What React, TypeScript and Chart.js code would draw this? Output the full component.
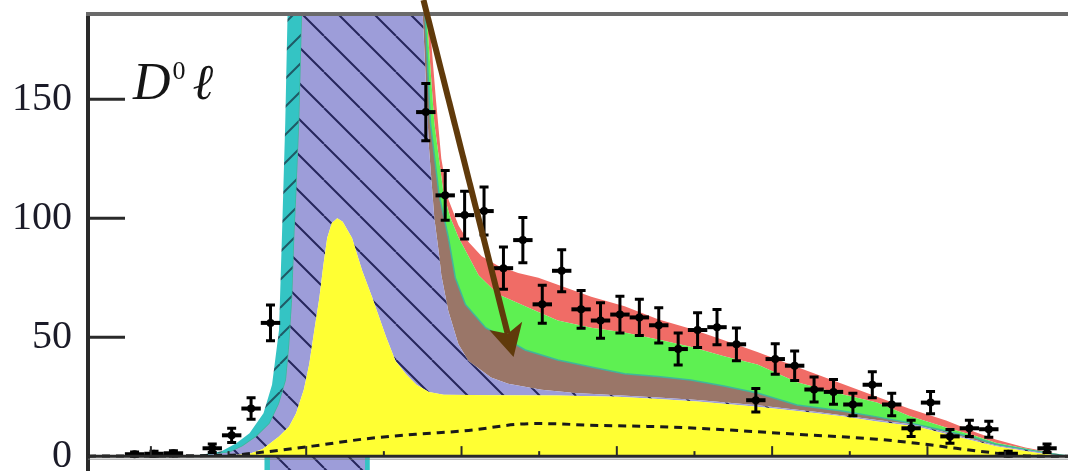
import React, { useEffect, useRef } from "react";
import { Chart, registerables } from "chart.js";

Chart.register(...registerables);

// ---------- axis ranges / ticks ----------
const X_MIN = 0.19;
const X_MAX = 12.81;
const Y_MIN = -5.83;
const Y_MAX = 185.83;
const Y_TICKS = [0, 50, 100, 150];
const X_MINOR_TICKS = [1, 2, 3, 4, 5, 6, 7, 8, 9, 10, 11, 12];
const BIN_HALF = 0.125;

// ---------- data points (bin centre, counts, error) ----------
const pointX = [0.79, 1.04, 1.29, 1.79, 2.04, 2.29, 2.54,
  4.54, 4.79, 5.04, 5.29, 5.54, 5.79, 6.04, 6.29, 6.54, 6.79, 7.04, 7.29, 7.54, 7.79, 8.04, 8.29,
  8.54, 8.79, 9.04, 9.29, 9.54, 9.79, 10.04, 10.29, 10.54, 10.79, 11.04, 11.29, 11.54, 11.79, 12.04, 12.54];
const pointY = [0.8, 1, 1.2, 3.3, 8.75, 20, 56,
  144.6, 109.6, 101.3, 103, 79, 90.8, 63.8, 77.9, 61.7, 57, 59.5, 58.3, 55, 45, 53, 54.2,
  47, 23.5, 40.8, 38, 28, 27, 21.7, 30, 21.7, 11.7, 22.5, 8.3, 11.7, 11.3, 1, 3.3];
const pointErr = [0.9, 1, 1.1, 1.8, 3, 4.5, 7.5,
  12, 10.5, 10, 10.1, 8.9, 9.5, 8, 8.8, 7.9, 7.5, 7.7, 7.6, 7.4, 6.7, 7.3, 7.4,
  6.9, 4.9, 6.4, 6.2, 5.3, 5.2, 4.7, 5.5, 4.7, 3.4, 4.7, 2.9, 3.4, 3.4, 1, 1.8];

// ---------- stacked components (cumulative upper edges) ----------
const yellowX = [0.19, 2.01, 2.27, 2.44, 2.65, 2.78, 2.87, 2.97, 3.04, 3.1, 3.17, 3.22, 3.27, 3.33, 3.4, 3.47,
  3.59, 3.72, 3.85, 4.03, 4.15, 4.28, 4.42, 4.58, 4.77, 5.47, 6.24, 7.01, 7.53, 8.04, 8.81, 9.32, 9.9, 10.35,
  10.86, 11.37, 11.88, 12.4, 12.65, 12.81];
const yellowY = [0, 0.3, 1, 3, 8.3, 12.5, 18, 28, 38.8, 52, 66.7, 80, 91.7, 98, 100, 98.5,
  91.7, 78, 66.7, 50, 40, 34.6, 30, 27, 25.8, 25.6, 25.5, 25, 24, 23, 20.8, 19, 16.8, 14.6,
  12.5, 8.3, 4.2, 1.4, 0.4, 0];

const peakLeftX = [0.19, 1.63, 2.01, 2.18, 2.36, 2.53, 2.65, 2.74, 2.78, 2.82, 2.85, 2.87, 2.91, 2.95, 2.99, 4.32];
const peakLeftY = [0, 0.3, 1.5, 4.2, 8.3, 13.75, 22, 32, 46, 66.7, 94.6, 108, 140, 190, 300, 300];

const purpleRightX = [4.35, 4.5, 4.58, 4.65, 4.71, 4.74, 4.83, 4.96, 5.09, 5.38, 5.6, 6.03, 6.46, 7.01, 7.53,
  8.04, 8.81, 9.58, 10.35, 10.86, 11.37, 11.88, 12.4, 12.65, 12.81];
const purpleRightY = [300, 186, 130, 100, 85, 76, 61, 47, 40, 33, 30.4, 27.9, 26.5, 25.6, 24.6,
  23.6, 21.4, 18.6, 15.2, 13.1, 8.8, 4.6, 1.9, 0.6, 0];

const brownRightX = [4.4, 4.53, 4.6, 4.71, 4.83, 4.92, 5.05, 5.31, 5.6, 5.82, 6.24, 6.67, 7.1, 7.53, 7.95,
  8.38, 8.81, 9.32, 9.9, 10.35, 10.76, 11.24, 11.62, 11.88, 12.26, 12.53, 12.81];
const brownRightY = [300, 186, 140, 110, 92, 75, 63.75, 54, 48.75, 44.6, 40.4, 37.5, 34.6, 33.5, 32,
  29.5, 26.5, 21.5, 19, 16.5, 14, 10.6, 7.6, 5, 2.8, 1.3, 0];

const greenRightX = [4.45, 4.55, 4.65, 4.77, 4.86, 4.96, 5.09, 5.22, 5.47, 5.82, 6.24, 6.67, 7.1, 7.53, 7.95,
  8.38, 8.81, 9.32, 9.9, 10.35, 10.76, 11.24, 11.62, 11.88, 12.26, 12.53, 12.81];
const greenRightY = [300, 186, 140, 110, 100, 92, 84, 76, 68, 63, 57, 54, 52, 49, 46,
  42, 38.5, 31, 26, 22.5, 17, 12, 8.5, 5.6, 3.2, 1.6, 0];

const redRightX = [4.46, 4.58, 4.67, 4.74, 4.83, 4.96, 5.09, 5.26, 5.47, 5.73, 5.99, 6.24, 6.67, 7.1, 7.53,
  7.95, 8.38, 8.81, 9.32, 9.9, 10.35, 10.76, 11.24, 11.62, 11.88, 12.26, 12.53, 12.81];
const redRightY = [300, 186, 150, 125, 108, 97, 90, 84, 80, 77, 75, 72, 67, 63, 57.5,
  53.5, 48.75, 43.75, 37.5, 30.4, 25, 20, 15, 10, 7, 3.6, 1.9, 0];

const cyanLeftX = [0.19, 1.63, 1.91, 2.1, 2.27, 2.45, 2.56, 2.65, 2.69, 2.73, 2.76, 2.78, 4.4];
const cyanLeftY = [0, 0.5, 2, 5.4, 9.6, 18, 30, 53, 95, 140, 186, 300, 300];

const dashedX = [0.19, 2.01, 2.4, 3.08, 3.72, 4.41, 5.09, 5.69, 5.99, 6.76, 7.4, 8.04, 9.32, 10.35, 10.86,
  11.37, 11.88, 12.14, 12.4, 12.81];
const dashedY = [0, 0.4, 1.5, 4.2, 7.1, 9.2, 10.8, 13.3, 13.7, 12.9, 12.5, 11.7, 9.2, 7.1, 5.4,
  3.3, 1.25, 0.3, 0, 0];

// lower panel peak visible below the axis
const lowerCyanX = [2.46, 3.82];
const lowerPurpleX = [2.53, 3.76];
const lowerY = [-10, -10];

// ---------- annotations ----------
const arrowFrom = { x: 4.51, y: 191.7 };
const arrowTo = { x: 5.67, y: 41.7 };
const labelAt = { x: 0.77, y: 150 };
const labelMain = "D";
const labelSup = "0";
const labelLepton = "ℓ";

const SERIF = "'Liberation Serif', 'Times New Roman', 'DejaVu Serif', serif";

const pts = (xs: number[], ys: number[]) => xs.map((x, i) => ({ x, y: ys[i] }));

function hatch(bg: string, line: string, size: number, dir: "\\" | "/", lw: number) {
  const c = document.createElement("canvas");
  c.width = size;
  c.height = size;
  const g = c.getContext("2d")!;
  g.fillStyle = bg;
  g.fillRect(0, 0, size, size);
  g.strokeStyle = line;
  g.lineWidth = lw;
  g.beginPath();
  for (const o of [-size, 0, size]) {
    if (dir === "\\") {
      g.moveTo(o, 0);
      g.lineTo(o + size, size);
    } else {
      g.moveTo(o, size);
      g.lineTo(o + size, 0);
    }
  }
  g.stroke();
  return g.createPattern(c, "repeat")!;
}

const errorBars = {
  id: "errorBars",
  afterDatasetsDraw(chart: any) {
    const { ctx, chartArea: a, scales } = chart;
    const xs = scales.x, ys = scales.y;
    ctx.save();
    ctx.beginPath();
    ctx.rect(a.left, a.top, a.right - a.left, a.bottom - a.top);
    ctx.clip();
    ctx.strokeStyle = "#000";
    for (let i = 0; i < pointX.length; i++) {
      const px = xs.getPixelForValue(pointX[i]);
      const py = ys.getPixelForValue(pointY[i]);
      const top = ys.getPixelForValue(pointY[i] + pointErr[i]);
      const bot = ys.getPixelForValue(Math.max(pointY[i] - pointErr[i], Y_MIN));
      const l = xs.getPixelForValue(pointX[i] - BIN_HALF);
      const r = xs.getPixelForValue(pointX[i] + BIN_HALF);
      ctx.lineWidth = 3;
      ctx.beginPath();
      ctx.moveTo(px, top);
      ctx.lineTo(px, bot);
      ctx.moveTo(px - 4.5, top);
      ctx.lineTo(px + 4.5, top);
      ctx.moveTo(px - 4.5, bot);
      ctx.lineTo(px + 4.5, bot);
      ctx.stroke();
      ctx.lineWidth = 4;
      ctx.beginPath();
      ctx.moveTo(l, py);
      ctx.lineTo(r, py);
      ctx.stroke();
    }
    ctx.restore();
  },
};

const decor = {
  id: "decor",
  afterDraw(chart: any) {
    const { ctx, chartArea: a, scales } = chart;
    const xs = scales.x, ys = scales.y;
    const y0 = ys.getPixelForValue(0);
    ctx.save();
    ctx.lineCap = "butt";
    // frame top
    ctx.strokeStyle = "#6a6a6a";
    ctx.lineWidth = 4;
    ctx.beginPath();
    ctx.moveTo(a.left - 2, a.top);
    ctx.lineTo(a.right, a.top);
    ctx.stroke();
    // bottom axis
    ctx.strokeStyle = "#2a2a2a";
    ctx.lineWidth = 3;
    ctx.beginPath();
    ctx.moveTo(a.left, y0);
    ctx.lineTo(a.right, y0);
    ctx.stroke();
    ctx.strokeStyle = "rgba(120,120,120,0.5)";
    ctx.lineWidth = 1.5;
    ctx.beginPath();
    ctx.moveTo(a.left, y0 + 3);
    ctx.lineTo(a.right, y0 + 3);
    ctx.stroke();
    // inward y ticks
    ctx.strokeStyle = "#2a2a2a";
    ctx.lineWidth = 3;
    for (const v of Y_TICKS) {
      if (v === 0) continue;
      const py = ys.getPixelForValue(v);
      ctx.beginPath();
      ctx.moveTo(a.left, py);
      ctx.lineTo(a.left + 37, py);
      ctx.stroke();
    }
    // small x ticks
    ctx.lineWidth = 2;
    for (const k of X_MINOR_TICKS) {
      const px = xs.getPixelForValue(k);
      const len = k % 2 ? 10 : 5;
      ctx.beginPath();
      ctx.moveTo(px, y0);
      ctx.lineTo(px, y0 - len);
      ctx.stroke();
    }
    // arrow
    const fx = xs.getPixelForValue(arrowFrom.x), fy = ys.getPixelForValue(arrowFrom.y);
    const tx = xs.getPixelForValue(arrowTo.x), ty = ys.getPixelForValue(arrowTo.y);
    const dx = tx - fx, dy = ty - fy;
    const len = Math.hypot(dx, dy);
    const ux = dx / len, uy = dy / len;
    const headL = 32, headW = 17, notch = 24;
    const bx = tx - ux * headL, by = ty - uy * headL;
    const nx = tx - ux * notch, ny = ty - uy * notch;
    ctx.strokeStyle = "#603a0b";
    ctx.fillStyle = "#603a0b";
    ctx.lineWidth = 6;
    ctx.beginPath();
    ctx.moveTo(fx, fy);
    ctx.lineTo(nx, ny);
    ctx.stroke();
    ctx.beginPath();
    ctx.moveTo(tx, ty);
    ctx.lineTo(bx - uy * headW, by + ux * headW);
    ctx.lineTo(nx, ny);
    ctx.lineTo(bx + uy * headW, by - ux * headW);
    ctx.closePath();
    ctx.fill();
    // label D0 l
    const lx = xs.getPixelForValue(labelAt.x), ly = ys.getPixelForValue(labelAt.y);
    ctx.fillStyle = "#151515";
    ctx.textAlign = "left";
    ctx.textBaseline = "alphabetic";
    ctx.font = `italic 52px ${SERIF}`;
    ctx.fillText(labelMain, lx, ly);
    const wD = ctx.measureText(labelMain).width;
    ctx.font = `26px ${SERIF}`;
    ctx.fillText(labelSup, lx + wD + 2, ly - 20);
    const w0 = ctx.measureText(labelSup).width;
    ctx.font = `italic 50px ${SERIF}`;
    ctx.fillText(labelLepton, lx + wD + w0 + 9, ly);
    ctx.restore();
  },
};

export default function App() {
  const ref = useRef<HTMLCanvasElement>(null);

  useEffect(() => {
    const canvas = ref.current;
    if (!canvas) return;
    const purplePat = hatch("#9d9dd9", "#26265c", 36, "\\", 2);
    const cyanPat = hatch("#34c4c4", "#1f5a66", 28, "/", 2);

    const common = { pointRadius: 0, borderWidth: 0, tension: 0 };
    const chart = new Chart(canvas, {
      type: "line",
      data: {
        datasets: [
          { ...common, label: "yellow", data: pts(yellowX, yellowY), backgroundColor: "#ffff33", fill: "origin", order: 5 },
          { ...common, label: "purple", data: pts([...peakLeftX, ...purpleRightX], [...peakLeftY, ...purpleRightY]), backgroundColor: purplePat, fill: "-1", order: 5 },
          { ...common, label: "brown", data: pts([...peakLeftX, ...brownRightX], [...peakLeftY, ...brownRightY]), backgroundColor: "#9a7668", borderColor: "#3fb79a", borderWidth: 1.5, fill: "-1", order: 5 },
          { ...common, label: "green", data: pts([...peakLeftX, ...greenRightX], [...peakLeftY, ...greenRightY]), backgroundColor: "#5ef052", fill: "-1", order: 5 },
          { ...common, label: "red", data: pts([...peakLeftX, ...redRightX], [...peakLeftY, ...redRightY]), backgroundColor: "#f06c66", fill: "-1", order: 5 },
          { ...common, label: "cyan", data: pts([...cyanLeftX, ...redRightX], [...cyanLeftY, ...redRightY]), backgroundColor: cyanPat, fill: "-1", order: 5 },
          { ...common, label: "dashed", data: pts(dashedX, dashedY), borderColor: "#1a1a1a", borderWidth: 3, borderDash: [8, 6], fill: false, cubicInterpolationMode: "monotone", order: 1 },
          { ...common, label: "lowerCyan", data: pts(lowerCyanX, lowerY), backgroundColor: "#34c4c4", fill: { value: 0 }, order: 7 },
          { ...common, label: "lowerPurple", data: pts(lowerPurpleX, lowerY), backgroundColor: purplePat, fill: { value: 0 }, order: 6 },
          { label: "data", data: pts(pointX, pointY), showLine: false, pointRadius: 4, pointBackgroundColor: "#000", pointBorderWidth: 0, order: 0 },
        ] as any,
      },
      options: {
        animation: false,
        responsive: true,
        maintainAspectRatio: false,
        devicePixelRatio: 1,
        layout: { padding: { top: 14, left: 0, right: 0, bottom: 0 } },
        plugins: { legend: { display: false }, tooltip: { enabled: false } },
        scales: {
          x: { type: "linear", min: X_MIN, max: X_MAX, display: false },
          y: {
            type: "linear",
            min: Y_MIN,
            max: Y_MAX,
            afterBuildTicks: (s: any) => {
              s.ticks = Y_TICKS.map((v) => ({ value: v }));
            },
            afterFit: (s: any) => {
              s.width = 88;
              s.paddingTop = 0;
              s.paddingBottom = 0;
            },
            grid: { display: false, drawTicks: false },
            border: { display: true, color: "#2a2a2a", width: 4 },
            ticks: {
              font: { family: SERIF, size: 40 },
              color: "#1b1b28",
              padding: 16,
            },
          },
        },
      } as any,
      plugins: [errorBars, decor],
    });
    return () => chart.destroy();
  }, []);

  return (
    <div style={{ position: "fixed", left: 0, top: 0, width: 1072, height: 474, background: "#fff" }}>
      <canvas ref={ref} />
    </div>
  );
}
